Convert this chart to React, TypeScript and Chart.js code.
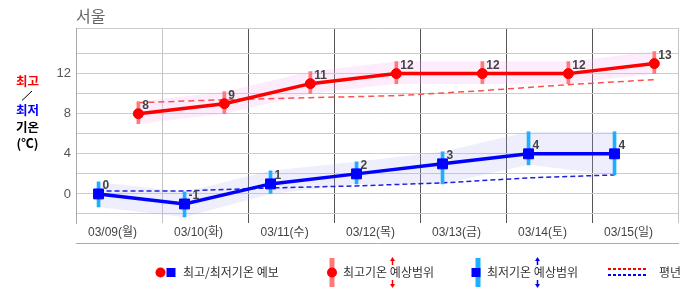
import React, { useEffect, useRef } from "react";
import { Chart, registerables } from "chart.js";

Chart.register(...registerables);

// ---- data ----
const dayLabels = ["03/09(월)", "03/10(화)", "03/11(수)", "03/12(목)", "03/13(금)", "03/14(토)", "03/15(일)"];
const maxTemps = [8, 9, 11, 12, 12, 12, 13];
const minTemps = [0, -1, 1, 2, 3, 4, 4];
const maxRangeHigh = [9.2, 10.2, 12.2, 13.2, 13.2, 13.2, 14.2];
const maxRangeLow = [7, 8, 10, 11, 11, 11, 12];
const minRangeHigh = [1.2, 0.2, 2.3, 3.2, 4.2, 6.2, 6.2];
const minRangeLow = [-1.3, -2.3, 0, 1, 1, 2.9, 1.9];
const maxNormal = [9.1, 9.4, 9.6, 9.8, 10.3, 10.9, 11.4];
const minNormal = [0.3, 0.3, 0.6, 0.8, 1.1, 1.6, 1.9];
const yTickValues = [-2, 0, 2, 4, 6, 8, 10, 12, 14];
const yMin = -2.9;
const yMax = 16.55;

// time-of-day offsets inside each day column (min temp in the morning, max temp in the afternoon)
const MIN_OFFSET = 0.262;
const MAX_OFFSET = 0.725;
const LABEL_OFFSET = 0.425;

const FONT_LATIN = "'Liberation Sans', Arial, 'Noto Sans CJK KR', sans-serif";
const FONT_KR = "'Noto Sans CJK KR', 'Noto Sans', sans-serif";

const RED = "#ff0000";
const BLUE = "#0000ff";
const RED_BAR = "#ff7b7b";
const BLUE_BAR = "#1eb0ff";

const pts = (vals: number[], off: number) => vals.map((v, i) => ({ x: i + off, y: v }));
const rng = (lo: number[], hi: number[], off: number) => lo.map((v, i) => ({ x: i + off, y: [v, hi[i]] }));

const MAX_LINE = 6;
const MIN_LINE = 7;

function drawArrow(ctx: CanvasRenderingContext2D, x: number, color: string) {
  ctx.save();
  ctx.strokeStyle = color;
  ctx.fillStyle = color;
  ctx.lineWidth = 1.5;
  ctx.beginPath();
  ctx.moveTo(x, 259);
  ctx.lineTo(x, 265);
  ctx.moveTo(x, 280);
  ctx.lineTo(x, 286);
  ctx.stroke();
  ctx.beginPath();
  ctx.moveTo(x, 257);
  ctx.lineTo(x - 2.5, 261);
  ctx.lineTo(x + 2.5, 261);
  ctx.closePath();
  ctx.fill();
  ctx.beginPath();
  ctx.moveTo(x, 288);
  ctx.lineTo(x - 2.5, 284);
  ctx.lineTo(x + 2.5, 284);
  ctx.closePath();
  ctx.fill();
  ctx.restore();
}

const overlayPlugin = {
  id: "overlay",
  afterDatasetsDraw(chart: any) {
    const ctx: CanvasRenderingContext2D = chart.ctx;
    ctx.save();
    ctx.font = `bold 12px ${FONT_LATIN}`;
    ctx.fillStyle = "#444";
    ctx.textAlign = "left";
    ctx.textBaseline = "alphabetic";
    [MAX_LINE, MIN_LINE].forEach((di) => {
      const meta = chart.getDatasetMeta(di);
      const data = chart.data.datasets[di].data;
      meta.data.forEach((el: any, j: number) => {
        ctx.fillText(String(data[j].y), el.x + 4, el.y - 5);
      });
    });
    ctx.restore();
  },
  afterDraw(chart: any) {
    const ctx: CanvasRenderingContext2D = chart.ctx;
    ctx.save();
    // title
    ctx.font = `16px ${FONT_KR}`;
    ctx.fillStyle = "#666";
    ctx.textAlign = "left";
    ctx.textBaseline = "middle";
    ctx.fillText("서울", 76, 15.5);

    // left axis title
    ctx.textAlign = "center";
    ctx.font = `bold 12.5px ${FONT_KR}`;
    ctx.fillStyle = RED;
    ctx.fillText("최고", 27.5, 81.5);
    ctx.fillStyle = BLUE;
    ctx.fillText("최저", 27.5, 110);
    ctx.fillStyle = "#000";
    ctx.fillText("기온", 27.5, 127.5);
    ctx.fillText("(℃)", 27.5, 143);
    ctx.strokeStyle = "#000";
    ctx.lineWidth = 1;
    ctx.beginPath();
    ctx.moveTo(22, 100.5);
    ctx.lineTo(32, 91);
    ctx.stroke();

    // legend
    const ly = 272.5;
    ctx.font = `12px ${FONT_KR}`;
    ctx.fillStyle = "#333";
    ctx.textAlign = "left";
    ctx.textBaseline = "middle";

    // item 1
    ctx.fillStyle = RED;
    ctx.beginPath();
    ctx.arc(160.5, ly, 5, 0, Math.PI * 2);
    ctx.fill();
    ctx.fillStyle = BLUE;
    ctx.fillRect(166.5, ly - 4.5, 9, 9);
    ctx.fillStyle = "#333";
    ctx.fillText("최고/최저기온 예보", 183, ly);

    // item 2
    ctx.fillStyle = RED_BAR;
    ctx.fillRect(329.5, 258, 5, 29);
    ctx.fillStyle = RED;
    ctx.beginPath();
    ctx.arc(332, ly, 5, 0, Math.PI * 2);
    ctx.fill();
    ctx.fillStyle = "#333";
    ctx.fillText("최고기온 예상범위", 343, ly);
    drawArrow(ctx, 392.5, RED);

    // item 3
    ctx.fillStyle = BLUE_BAR;
    ctx.fillRect(475.5, 258, 5, 29);
    ctx.fillStyle = BLUE;
    ctx.fillRect(471.5, ly - 4.5, 9, 9);
    ctx.fillStyle = "#333";
    ctx.fillText("최저기온 예상범위", 487, ly);
    drawArrow(ctx, 537.5, BLUE);

    // item 4
    ctx.lineWidth = 2;
    ctx.setLineDash([3, 2]);
    ctx.strokeStyle = RED;
    ctx.beginPath();
    ctx.moveTo(608, 269);
    ctx.lineTo(648, 269);
    ctx.stroke();
    ctx.strokeStyle = BLUE;
    ctx.beginPath();
    ctx.moveTo(608, 275);
    ctx.lineTo(648, 275);
    ctx.stroke();
    ctx.setLineDash([]);
    ctx.fillStyle = "#333";
    ctx.fillText("평년", 659, ly);
    ctx.restore();
  },
};

export default function App() {
  const ref = useRef<HTMLCanvasElement | null>(null);

  useEffect(() => {
    document.body.style.margin = "0";
    const canvas = ref.current;
    if (!canvas) return;

    const datasets: any[] = [
      // 0,1 : max range band
      { type: "line", data: pts(maxRangeHigh, MAX_OFFSET), borderWidth: 0, pointRadius: 0, fill: false, order: 5 },
      { type: "line", data: pts(maxRangeLow, MAX_OFFSET), borderWidth: 0, pointRadius: 0, fill: "-1", backgroundColor: "rgba(240,170,240,0.22)", order: 5 },
      // 2,3 : min range band
      { type: "line", data: pts(minRangeHigh, MIN_OFFSET), borderWidth: 0, pointRadius: 0, fill: false, order: 5 },
      { type: "line", data: pts(minRangeLow, MIN_OFFSET), borderWidth: 0, pointRadius: 0, fill: "-1", backgroundColor: "rgba(170,170,240,0.2)", order: 5 },
      // 4,5 : normals
      { type: "line", data: pts(maxNormal, MAX_OFFSET), borderColor: "#ff5050", borderWidth: 1.5, borderDash: [6, 4], pointRadius: 0, fill: false, order: 4 },
      { type: "line", data: pts(minNormal, MIN_OFFSET), borderColor: "#2020e0", borderWidth: 1.5, borderDash: [5, 3], pointRadius: 0, fill: false, order: 4 },
      // 6,7 : forecast lines
      {
        type: "line", data: pts(maxTemps, MAX_OFFSET), borderColor: RED, borderWidth: 3.5, fill: false,
        pointStyle: "circle", pointRadius: 5, pointBorderWidth: 1, pointBackgroundColor: RED, pointBorderColor: RED, order: 1,
      },
      {
        type: "line", data: pts(minTemps, MIN_OFFSET), borderColor: BLUE, borderWidth: 3.5, fill: false,
        pointStyle: "rect", pointRadius: 7, pointBorderWidth: 1, pointBackgroundColor: BLUE, pointBorderColor: BLUE, order: 1,
      },
      // 8,9 : range bars
      { type: "bar", data: rng(maxRangeLow, maxRangeHigh, MAX_OFFSET), backgroundColor: RED_BAR, barThickness: 3, grouped: false, order: 2 },
      { type: "bar", data: rng(minRangeLow, minRangeHigh, MIN_OFFSET), backgroundColor: BLUE_BAR, barThickness: 3, grouped: false, order: 2 },
    ];

    const chart = new Chart(canvas, {
      type: "line",
      data: { datasets },
      options: {
        responsive: false,
        animation: false,
        events: [],
        layout: { padding: { left: 0, top: 28, right: 1, bottom: 52 } },
        elements: { line: { tension: 0 } },
        plugins: { legend: { display: false }, tooltip: { enabled: false }, title: { display: false } },
        scales: {
          x: {
            type: "linear",
            position: "bottom",
            min: 0,
            max: 7,
            offset: false,
            grid: { display: false, drawTicks: false, offset: false },
            border: { display: false },
            afterBuildTicks: (scale: any) => {
              scale.ticks = dayLabels.map((_, i) => ({ value: i + LABEL_OFFSET }));
            },
            afterFit: (scale: any) => {
              scale.height = 20;
            },
            ticks: {
              autoSkip: false,
              maxRotation: 0,
              minRotation: 0,
              padding: 2,
              color: "#444",
              font: { family: FONT_LATIN, size: 12 },
              callback: (_v: any, i: number) => dayLabels[i],
            },
          },
          xg: {
            type: "linear",
            position: "bottom",
            min: 0,
            max: 7,
            offset: false,
            ticks: { display: false },
            grid: {
              drawTicks: false,
              offset: false,
              lineWidth: 1,
              color: (c: any) => (c.tick && (c.tick.value === 1 || c.tick.value === 7) ? "#c4c4c4" : "#555"),
            },
            border: { display: true, color: "#aaa" },
            afterBuildTicks: (scale: any) => {
              scale.ticks = [1, 2, 3, 4, 5, 6, 7].map((v) => ({ value: v }));
            },
            afterFit: (scale: any) => {
              scale.height = 0;
            },
          },
          y: {
            type: "linear",
            position: "left",
            min: yMin,
            max: yMax,
            grid: { color: "#cccccc", drawTicks: false, lineWidth: 1 },
            border: { display: true, color: "#aaa" },
            afterBuildTicks: (scale: any) => {
              scale.ticks = [...yTickValues, yMax].map((v) => ({ value: v }));
            },
            afterFit: (scale: any) => {
              scale.width = 76;
            },
            ticks: {
              padding: 5,
              color: "#555",
              font: { family: FONT_LATIN, size: 13 },
              callback: (v: any) => (typeof v === "number" && v % 4 === 0 ? String(v) : ""),
            },
          },
        },
      } as any,
      plugins: [overlayPlugin as any],
    });

    return () => chart.destroy();
  }, []);

  return (
    <div style={{ position: "fixed", left: 0, top: 0, width: 686, height: 295, background: "#fff" }}>
      <canvas ref={ref} width={686} height={295} style={{ display: "block", width: 686, height: 295 }} />
    </div>
  );
}
